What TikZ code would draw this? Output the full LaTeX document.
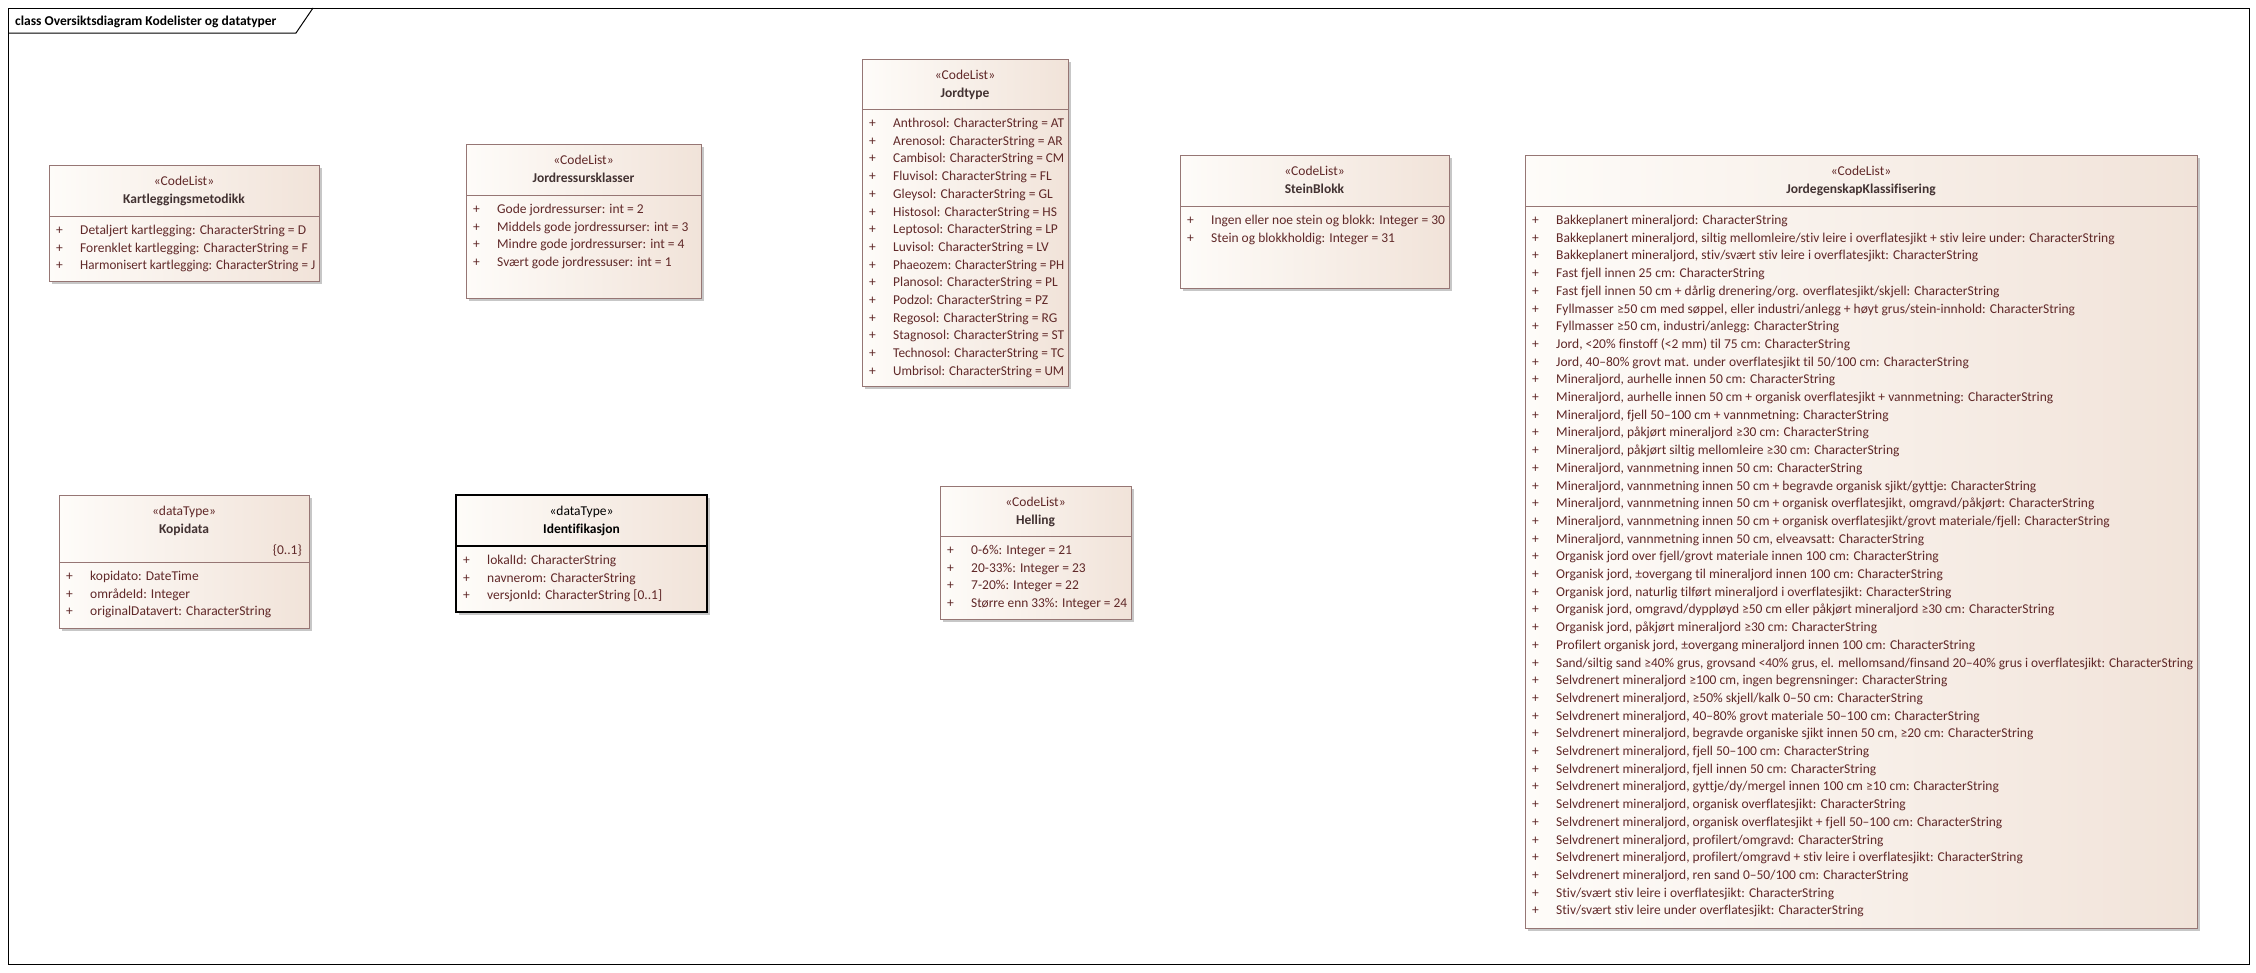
\documentclass[tikz,border=0pt]{standalone}
\usepackage{fontspec}
\setmainfont{Carlito}[Ligatures={NoCommon}]
\usepackage{graphicx}
\usepackage{tikz}
\definecolor{umlline}{RGB}{150,118,116}   % box border
\definecolor{umltext}{RGB}{96,40,40}      % attribute text
\definecolor{umlname}{RGB}{66,50,50}      % class names
\definecolor{umlleft}{RGB}{254,252,249}
\definecolor{umlright}{RGB}{241,227,217}
% squeeze a row that is wider than its box
\newcommand\fitrow[2]{\sbox0{#2}\ifdim\wd0>#1\resizebox{#1}{\height}{#2}\else\usebox0\fi}
\tikzset{
    umlbox/.style={draw=umlline, left color=umlleft, right color=umlright},
    umlshadow/.style={fill=black!22, draw=none},
    stereo/.style={text=umltext, anchor=base, inner sep=0pt, font=\fontsize{13.5}{15}\selectfont},
    cname/.style={text=umlname, anchor=base, inner sep=0pt, font=\fontsize{13.5}{15}\selectfont\bfseries},
    attr/.style={text=umltext, anchor=base west, inner sep=0pt, font=\fontsize{13.5}{15}\selectfont},
}
\begin{document}
\begin{tikzpicture}[x=1pt,y=-1pt]
    \useasboundingbox (0,0) rectangle (2256,972);
    % frame and title tab
    \draw[line width=1pt] (8,8) rectangle (2249,964);
    \draw[line width=1pt] (8,33) -- (296,33) -- (313,8);
    \node[anchor=base west, inner sep=0pt, font=\fontsize{13.5}{15}\selectfont\bfseries] (title) at (15,25.5) {class Oversiktsdiagram Kodelister og datatyper};
    % Kartleggingsmetodikk
    \fill[umlshadow] (52,168) rectangle (322,284);
    \draw[umlbox] (49,165) rectangle (319,281);
    \draw[umlline] (49,216) -- (319,216);
    \node[stereo] (kart-st) at (184,185.5) {«CodeList»};
    \node[cname] (kart) at (184,203.5) {Kartleggingsmetodikk};
    \foreach \t [count=\i] in {{Detaljert kartlegging: CharacterString = D},
        {Forenklet kartlegging: CharacterString = F},
        {Harmonisert kartlegging: CharacterString = J}}
        \node[attr] (kart-\i) at (56,216.8+\i*17.7) {\makebox[24pt][l]{+}\fitrow{235pt}{\t}};
    % Jordressursklasser
    \fill[umlshadow] (469,147) rectangle (704,301);
    \draw[umlbox] (466,144) rectangle (701,298);
    \draw[umlline] (466,195) -- (701,195);
    \node[stereo] (jres-st) at (583.5,164.5) {«CodeList»};
    \node[cname] (jres) at (583.5,182.5) {Jordressursklasser};
    \foreach \t [count=\i] in {{Gode jordressurser: int = 2},
        {Middels gode jordressurser: int = 3},
        {Mindre gode jordressurser: int = 4},
        {Svært gode jordressuser: int = 1}}
        \node[attr] (jres-\i) at (473,195.8+\i*17.7) {\makebox[24pt][l]{+}\fitrow{200pt}{\t}};
    % Jordtype
    \fill[umlshadow] (865,62) rectangle (1071,389);
    \draw[umlbox] (862,59) rectangle (1068,386);
    \draw[umlline] (862,109) -- (1068,109);
    \node[stereo] (jtype-st) at (965,79.5) {«CodeList»};
    \node[cname] (jtype) at (965,97.5) {Jordtype};
    \foreach \t [count=\i] in {{Anthrosol: CharacterString = AT},
        {Arenosol: CharacterString = AR}, {Cambisol: CharacterString = CM},
        {Fluvisol: CharacterString = FL}, {Gleysol: CharacterString = GL},
        {Histosol: CharacterString = HS}, {Leptosol: CharacterString = LP},
        {Luvisol: CharacterString = LV}, {Phaeozem: CharacterString = PH},
        {Planosol: CharacterString = PL}, {Podzol: CharacterString = PZ},
        {Regosol: CharacterString = RG}, {Stagnosol: CharacterString = ST},
        {Technosol: CharacterString = TC}, {Umbrisol: CharacterString = UM}}
        \node[attr] (jtype-\i) at (869,109.8+\i*17.7) {\makebox[24pt][l]{+}\fitrow{171pt}{\t}};
    % SteinBlokk
    \fill[umlshadow] (1183,158) rectangle (1452,291);
    \draw[umlbox] (1180,155) rectangle (1449,288);
    \draw[umlline] (1180,206) -- (1449,206);
    \node[stereo] (stein-st) at (1314.5,175.5) {«CodeList»};
    \node[cname] (stein) at (1314.5,193.5) {SteinBlokk};
    \foreach \t [count=\i] in {{Ingen eller noe stein og blokk: Integer = 30},
        {Stein og blokkholdig: Integer = 31}}
        \node[attr] (stein-\i) at (1187,206.8+\i*17.7) {\makebox[24pt][l]{+}\fitrow{234pt}{\t}};
    % JordegenskapKlassifisering
    \fill[umlshadow] (1528,158) rectangle (2200,931);
    \draw[umlbox] (1525,155) rectangle (2197,928);
    \draw[umlline] (1525,206) -- (2197,206);
    \node[stereo] (jeg-st) at (1861,175.5) {«CodeList»};
    \node[cname] (jeg) at (1861,193.5) {JordegenskapKlassifisering};
    \foreach \t [count=\i] in {{Bakkeplanert mineraljord: CharacterString},
        {Bakkeplanert mineraljord, siltig mellomleire/stiv leire i overflatesjikt + stiv leire under: CharacterString},
        {Bakkeplanert mineraljord, stiv/svært stiv leire i overflatesjikt: CharacterString},
        {Fast fjell innen 25 cm: CharacterString},
        {Fast fjell innen 50 cm + dårlig drenering/org. overflatesjikt/skjell: CharacterString},
        {Fyllmasser ≥50 cm med søppel, eller industri/anlegg + høyt grus/stein-innhold: CharacterString},
        {Fyllmasser ≥50 cm, industri/anlegg: CharacterString},
        {Jord, <20\% finstoff (<2 mm) til 75 cm: CharacterString},
        {Jord, 40–80\% grovt mat. under overflatesjikt til 50/100 cm: CharacterString},
        {Mineraljord, aurhelle innen 50 cm: CharacterString},
        {Mineraljord, aurhelle innen 50 cm + organisk overflatesjikt + vannmetning: CharacterString},
        {Mineraljord, fjell 50–100 cm + vannmetning: CharacterString},
        {Mineraljord, påkjørt mineraljord ≥30 cm: CharacterString},
        {Mineraljord, påkjørt siltig mellomleire ≥30 cm: CharacterString},
        {Mineraljord, vannmetning innen 50 cm: CharacterString},
        {Mineraljord, vannmetning innen 50 cm + begravde organisk sjikt/gyttje: CharacterString},
        {Mineraljord, vannmetning innen 50 cm + organisk overflatesjikt, omgravd/påkjørt: CharacterString},
        {Mineraljord, vannmetning innen 50 cm + organisk overflatesjikt/grovt materiale/fjell: CharacterString},
        {Mineraljord, vannmetning innen 50 cm, elveavsatt: CharacterString},
        {Organisk jord over fjell/grovt materiale innen 100 cm: CharacterString},
        {Organisk jord, ±overgang til mineraljord innen 100 cm: CharacterString},
        {Organisk jord, naturlig tilført mineraljord i overflatesjikt: CharacterString},
        {Organisk jord, omgravd/dyppløyd ≥50 cm eller påkjørt mineraljord ≥30 cm: CharacterString},
        {Organisk jord, påkjørt mineraljord ≥30 cm: CharacterString},
        {Profilert organisk jord, ±overgang mineraljord innen 100 cm: CharacterString},
        {Sand/siltig sand ≥40\% grus, grovsand <40\% grus, el. mellomsand/finsand 20–40\% grus i overflatesjikt: CharacterString},
        {Selvdrenert mineraljord ≥100 cm, ingen begrensninger: CharacterString},
        {Selvdrenert mineraljord, ≥50\% skjell/kalk 0–50 cm: CharacterString},
        {Selvdrenert mineraljord, 40–80\% grovt materiale 50–100 cm: CharacterString},
        {Selvdrenert mineraljord, begravde organiske sjikt innen 50 cm, ≥20 cm: CharacterString},
        {Selvdrenert mineraljord, fjell 50–100 cm: CharacterString},
        {Selvdrenert mineraljord, fjell innen 50 cm: CharacterString},
        {Selvdrenert mineraljord, gyttje/dy/mergel innen 100 cm ≥10 cm: CharacterString},
        {Selvdrenert mineraljord, organisk overflatesjikt: CharacterString},
        {Selvdrenert mineraljord, organisk overflatesjikt + fjell 50–100 cm: CharacterString},
        {Selvdrenert mineraljord, profilert/omgravd: CharacterString},
        {Selvdrenert mineraljord, profilert/omgravd + stiv leire i overflatesjikt: CharacterString},
        {Selvdrenert mineraljord, ren sand 0–50/100 cm: CharacterString},
        {Stiv/svært stiv leire i overflatesjikt: CharacterString},
        {Stiv/svært stiv leire under overflatesjikt: CharacterString}}
        \node[attr] (jeg-\i) at (1532,206.8+\i*17.7) {\makebox[24pt][l]{+}\fitrow{637pt}{\t}};
    % Kopidata
    \fill[umlshadow] (62,498) rectangle (312,631);
    \draw[umlbox] (59,495) rectangle (309,628);
    \draw[umlline] (59,562) -- (309,562);
    \node[stereo] (kopi-st) at (184,515.5) {«dataType»};
    \node[cname] (kopi) at (184,533.5) {Kopidata};
    \node[stereo, anchor=base east] (kopi-m) at (302,554.5) {\{0..1\}};
    \foreach \t [count=\i] in {{kopidato: DateTime},
        {områdeId: Integer},
        {originalDatavert: CharacterString}}
        \node[attr] (kopi-\i) at (66,562.8+\i*17.7) {\makebox[24pt][l]{+}\fitrow{215pt}{\t}};
    % Identifikasjon
    \fill[umlshadow] (459,498) rectangle (710,615);
    \draw[umlbox, draw=black, line width=1.5pt] (456,495) rectangle (707,612);
    \draw[line width=1.5pt] (456,546) -- (707,546);
    \node[stereo, text=black] (ident-st) at (581.5,515.5) {«dataType»};
    \node[cname, text=black] (ident) at (581.5,533.5) {Identifikasjon};
    \foreach \t [count=\i] in {{lokalId: CharacterString},
        {navnerom: CharacterString},
        {versjonId: CharacterString [0..1]}}
        \node[attr] (ident-\i) at (463,546.8+\i*17.7) {\makebox[24pt][l]{+}\fitrow{216pt}{\t}};
    % Helling
    \fill[umlshadow] (943,489) rectangle (1134,622);
    \draw[umlbox] (940,486) rectangle (1131,619);
    \draw[umlline] (940,536) -- (1131,536);
    \node[stereo] (hell-st) at (1035.5,506.5) {«CodeList»};
    \node[cname] (hell) at (1035.5,524.5) {Helling};
    \foreach \t [count=\i] in {{0-6\%: Integer = 21},
        {20-33\%: Integer = 23},
        {7-20\%: Integer = 22},
        {Større enn 33\%: Integer = 24}}
        \node[attr] (hell-\i) at (947,536.8+\i*17.7) {\makebox[24pt][l]{+}\fitrow{156pt}{\t}};
\end{tikzpicture}
\end{document}
